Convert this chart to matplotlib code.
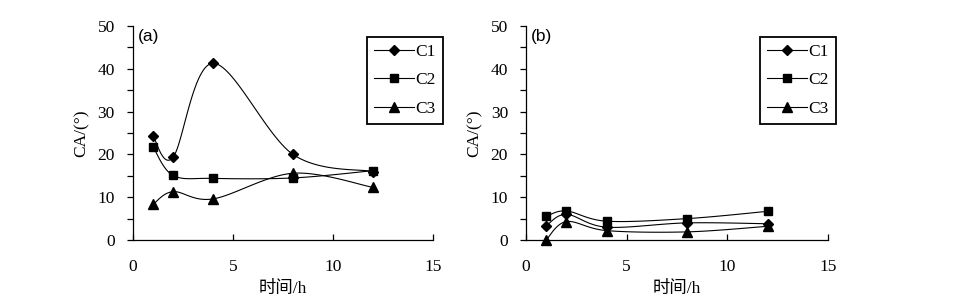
import numpy as np
import matplotlib
matplotlib.use("Agg")
import matplotlib.pyplot as plt
from matplotlib.lines import Line2D

hours = [1, 2, 4, 8, 12]
series_names = ["C1", "C2", "C3"]
a_C1 = [24.3, 19.3, 41.3, 20.0, 16.0]
a_C2 = [21.8, 15.1, 14.4, 14.5, 16.2]
a_C3 = [8.3, 11.3, 9.6, 15.6, 12.3]
b_C1 = [3.3, 6.0, 3.0, 4.0, 3.8]
b_C2 = [5.5, 6.8, 4.4, 5.0, 6.7]
b_C3 = [0.0, 4.3, 2.2, 1.9, 3.2]
panel_labels = ["(a)", "(b)"]
x_ticks = [0, 5, 10, 15]
y_ticks = [0, 10, 20, 30, 40, 50]
xlabel = "时间/h"
ylabel = "CA/(°)"

markers = ["D", "s", "^"]
msizes = [5.2, 5.8, 7]

serif = ["Liberation Serif", "Noto Sans CJK SC"]
FS = 12.5


def smooth(x, y, n=30):
    # Catmull-Rom style smoothing (as in spreadsheet smoothed lines)
    P = np.column_stack([x, y]).astype(float)
    pts = []
    m = len(P)
    for i in range(m - 1):
        p0 = P[i - 1] if i > 0 else P[i]
        p1 = P[i]
        p2 = P[i + 1]
        p3 = P[i + 2] if i + 2 < m else P[i + 1]
        c1 = p1 + (p2 - p0) / 6.0
        c2 = p2 - (p3 - p1) / 6.0
        t = np.linspace(0, 1, n)[:, None]
        seg = ((1 - t) ** 3) * p1 + 3 * ((1 - t) ** 2) * t * c1 + 3 * (1 - t) * t ** 2 * c2 + t ** 3 * p2
        pts.append(seg if i == 0 else seg[1:])
    pts = np.vstack(pts)
    return pts[:, 0], pts[:, 1]


fig = plt.figure(figsize=(9.65, 2.97), dpi=100)
positions = [[0.1378, 0.1919, 0.3109, 0.7205], [0.5451, 0.1919, 0.3130, 0.7205]]
data = [[a_C1, a_C2, a_C3], [b_C1, b_C2, b_C3]]
legend_boxes = [(0.3803, 0.8754), (0.7876, 0.8754)]

for k in range(2):
    ax = fig.add_axes(positions[k])
    for j, ys in enumerate(data[k]):
        sx, sy = smooth(hours, ys)
        ax.plot(sx, sy, color="black", lw=0.8, zorder=2)
        ax.plot(hours, ys, linestyle="none", marker=markers[j], ms=msizes[j],
                color="black", zorder=3, clip_on=False)
    ax.set_xlim(0, 15)
    ax.set_ylim(0, 50)
    ax.set_xticks(x_ticks)
    ax.set_yticks(y_ticks)
    ax.set_yticks(np.arange(5, 50, 10), minor=True)
    ax.spines["top"].set_visible(False)
    ax.spines["right"].set_visible(False)
    ax.spines["left"].set_linewidth(0.9)
    ax.spines["bottom"].set_linewidth(0.9)
    ax.tick_params(axis="x", direction="in", length=4, width=0.9, pad=14, labelsize=FS)
    ax.tick_params(axis="y", which="both", direction="out", length=4, width=0.9, pad=9, labelsize=FS)
    for lab in ax.get_xticklabels() + ax.get_yticklabels():
        lab.set_family(serif)
    ax.set_xlabel(xlabel, family=serif, fontsize=FS, labelpad=4)
    ax.set_ylabel(ylabel, family=serif, fontsize=FS, labelpad=6)
    ax.text(0.015, 0.985, panel_labels[k], transform=ax.transAxes, ha="left", va="top",
            family="Liberation Sans", fontsize=FS)
    handles = [Line2D([], [], color="black", lw=0.8, marker=markers[j], ms=msizes[j])
               for j in range(3)]
    leg = fig.legend(handles, series_names, loc="upper left",
                     bbox_to_anchor=legend_boxes[k], borderaxespad=0, frameon=True,
                     fancybox=False, edgecolor="black", framealpha=1, handlelength=2.3,
                     handletextpad=0.1, labelspacing=0.7, borderpad=0.4,
                     prop={"family": serif, "size": FS})
    leg.get_frame().set_linewidth(1.3)

fig.savefig("out.png", dpi=100)
